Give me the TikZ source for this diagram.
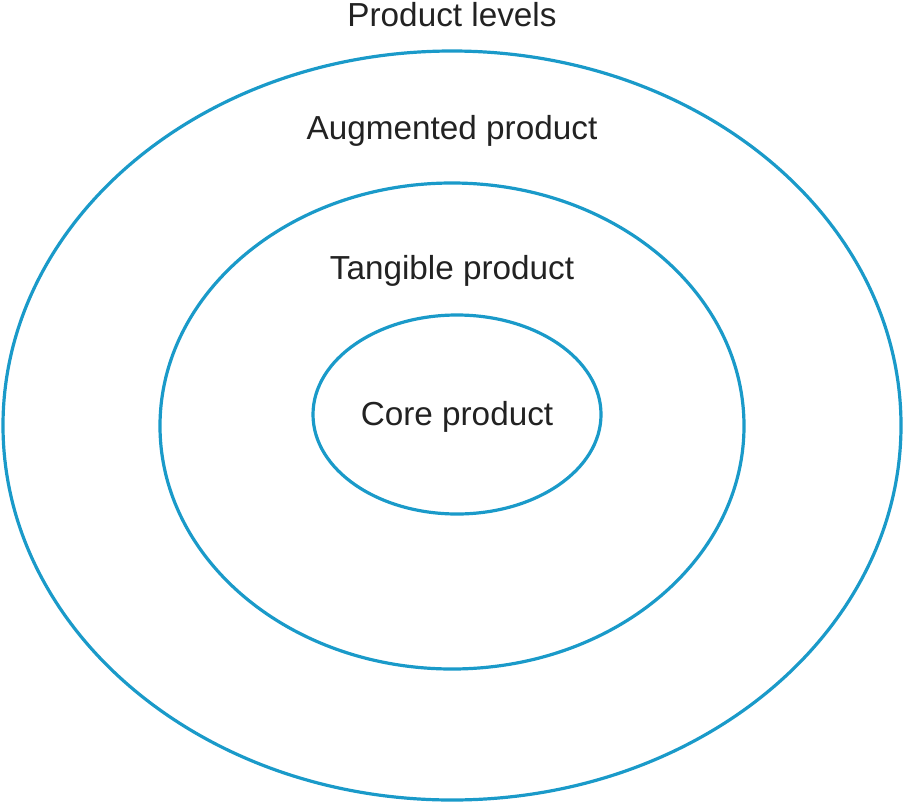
\documentclass[tikz,border=0pt]{standalone}
\usepackage{fontspec}
\setmainfont{Liberation Sans}
\definecolor{ringblue}{HTML}{1A9AC9}
\definecolor{txt}{HTML}{222222}
\begin{document}
\begin{tikzpicture}[x=1pt,y=-1pt,
  ring/.style={draw=ringblue,line width=3.2pt},
  lbl/.style={text=txt,font=\fontsize{33.3}{38}\selectfont,anchor=base,inner sep=0pt}]
\useasboundingbox (0,0) rectangle (904,803);
\draw[ring] (452,425.5) ellipse [x radius=449, y radius=374.5];
\draw[ring] (452,426) ellipse [x radius=292, y radius=243];
\draw[ring] (457,414.5) ellipse [x radius=144, y radius=99.5];
\node[lbl] (title) at (452,26) {Product levels};
\node[lbl] (aug) at (452,139) {Augmented product};
\node[lbl] (tang) at (452,279) {Tangible product};
\node[lbl] (core) at (457,425) {Core product};
\end{tikzpicture}
\end{document}
